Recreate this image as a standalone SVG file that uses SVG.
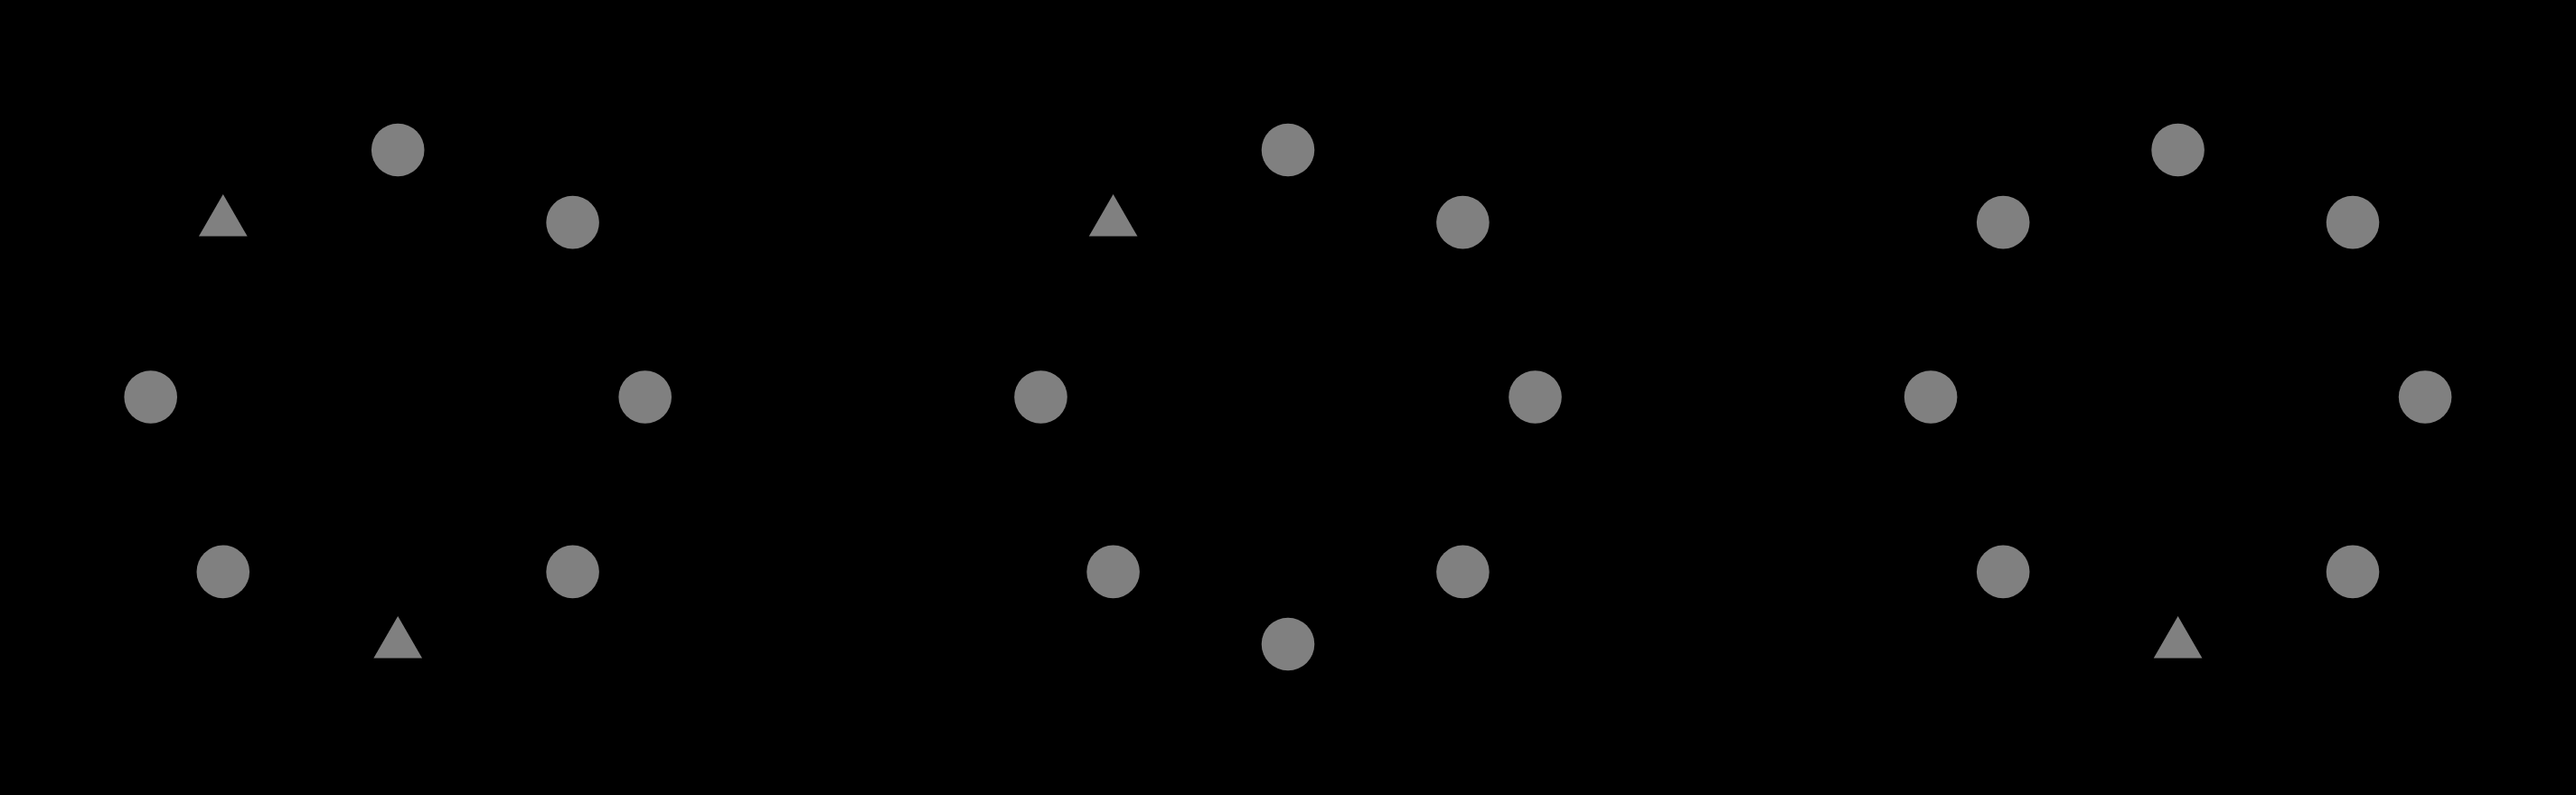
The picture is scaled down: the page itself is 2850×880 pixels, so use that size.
<svg xmlns="http://www.w3.org/2000/svg" xmlns:xlink="http://www.w3.org/1999/xlink" width="2850" height="880" viewBox="0 0 2850 880">
<style>
.n{fill:#808080;stroke:none}
</style>
<defs>
<polygon id="tri" class="n" points="0,-31 26.85,15.5 -26.85,15.5"/>
<circle id="dot" class="n" r="29.3"/>
</defs>
<rect x="0" y="0" width="2850" height="880" fill="#000"/>
<g id="connectors"></g>
<g id="ring1" transform="translate(440.2,439.5)">
<g id="r1-n0"><use href="#dot" x="0" y="-273.5"/></g>
<g id="r1-n1"><use href="#dot" x="193.4" y="-193.4"/></g>
<g id="r1-n2"><use href="#dot" x="273.5" y="0"/></g>
<g id="r1-n3"><use href="#dot" x="193.4" y="193.4"/></g>
<g id="r1-n4"><use href="#tri" x="0" y="273.5"/></g>
<g id="r1-n5"><use href="#dot" x="-193.4" y="193.4"/></g>
<g id="r1-n6"><use href="#dot" x="-273.5" y="0"/></g>
<g id="r1-n7"><use href="#tri" x="-193.4" y="-193.4"/></g>
</g>
<g id="ring2" transform="translate(1425,439.5)">
<g id="r2-n0"><use href="#dot" x="0" y="-273.5"/></g>
<g id="r2-n1"><use href="#dot" x="193.4" y="-193.4"/></g>
<g id="r2-n2"><use href="#dot" x="273.5" y="0"/></g>
<g id="r2-n3"><use href="#dot" x="193.4" y="193.4"/></g>
<g id="r2-n4"><use href="#dot" x="0" y="273.5"/></g>
<g id="r2-n5"><use href="#dot" x="-193.4" y="193.4"/></g>
<g id="r2-n6"><use href="#dot" x="-273.5" y="0"/></g>
<g id="r2-n7"><use href="#tri" x="-193.4" y="-193.4"/></g>
</g>
<g id="ring3" transform="translate(2409.6,439.5)">
<g id="r3-n0"><use href="#dot" x="0" y="-273.5"/></g>
<g id="r3-n1"><use href="#dot" x="193.4" y="-193.4"/></g>
<g id="r3-n2"><use href="#dot" x="273.5" y="0"/></g>
<g id="r3-n3"><use href="#dot" x="193.4" y="193.4"/></g>
<g id="r3-n4"><use href="#tri" x="0" y="273.5"/></g>
<g id="r3-n5"><use href="#dot" x="-193.4" y="193.4"/></g>
<g id="r3-n6"><use href="#dot" x="-273.5" y="0"/></g>
<g id="r3-n7"><use href="#dot" x="-193.4" y="-193.4"/></g>
</g>
</svg>
